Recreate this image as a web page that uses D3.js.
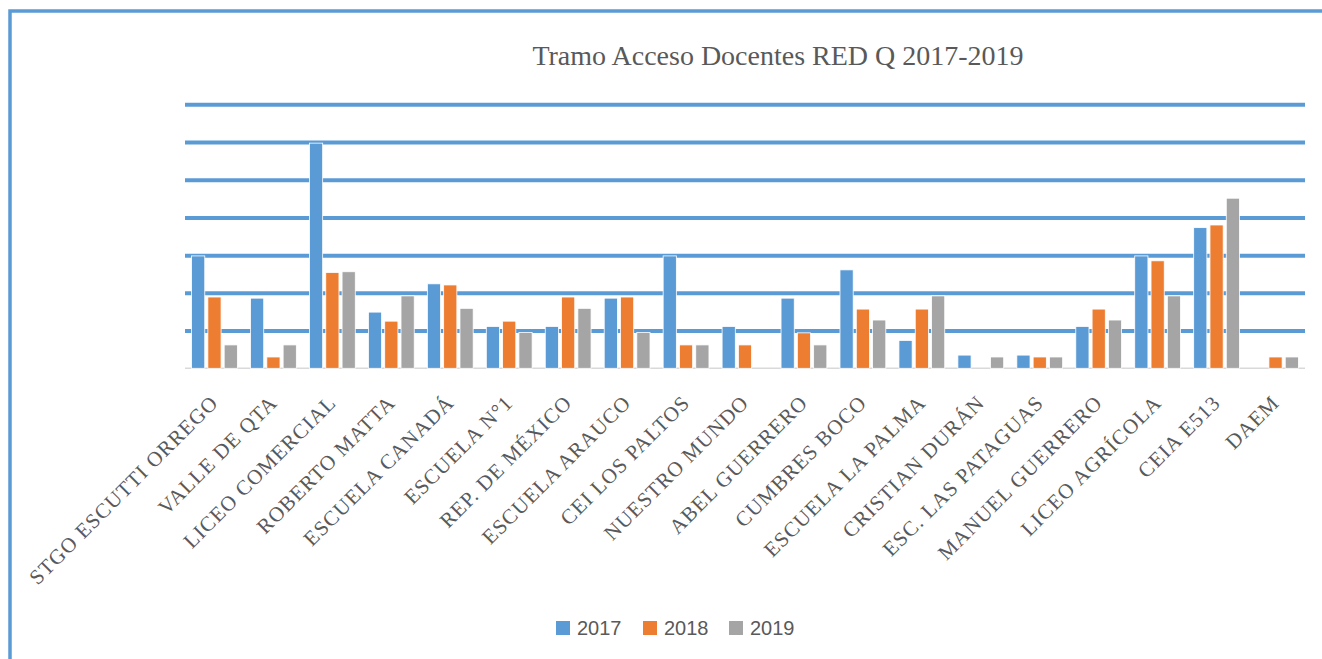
<!DOCTYPE html>
<html>
<head>
<meta charset="utf-8">
<script src="https://cdn.jsdelivr.net/npm/d3@7"></script>
<style>
  body { margin: 0; background: #fff; }
</style>
</head>
<body>
<svg id="chart"></svg>
<script>
// schools on the x axis
var schools = ["STGO ESCUTTI ORREGO", "VALLE DE QTA", "LICEO COMERCIAL", "ROBERTO MATTA",
    "ESCUELA CANADÁ", "ESCUELA N°1", "REP. DE MÉXICO", "ESCUELA ARAUCO", "CEI LOS PALTOS",
    "NUESTRO MUNDO", "ABEL GUERRERO", "CUMBRES BOCO", "ESCUELA LA PALMA", "CRISTIAN DURÁN",
    "ESC. LAS PATAGUAS", "MANUEL GUERRERO", "LICEO AGRÍCOLA", "CEIA E513", "DAEM"];

var years = ["2017", "2018", "2019"];

// bar heights (one unit = one gridline step)
var v2017 = [2.98, 1.86, 5.97, 1.49, 2.24, 1.11, 1.11, 1.86, 2.98, 1.11, 1.86, 2.61, 0.74, 0.35, 0.35, 1.11, 2.98, 3.73, 0];
var v2018 = [1.89, 0.30, 2.54, 1.25, 2.21, 1.25, 1.89, 1.89, 0.62, 0.62, 0.94, 1.57, 1.57, 0, 0.30, 1.57, 2.85, 3.80, 0.30];
var v2019 = [0.62, 0.62, 2.56, 1.92, 1.59, 0.95, 1.59, 0.95, 0.62, 0, 0.62, 1.28, 1.92, 0.30, 0.30, 1.28, 1.92, 4.51, 0.30];

var yTicks = [1, 2, 3, 4, 5, 6, 7];

var colors = {"2017": "#5B9BD5", "2018": "#ED7D31", "2019": "#A5A5A5"};

var size = { width: 1322, height: 659, left: 185, right: 1305, top: 104.3, bottom: 368.3 };

var svg = d3.select("#chart")
    .attr("width", size.width)
    .attr("height", size.height);

// frame round the chart area
svg.append("rect")
    .attr("x", 10)
    .attr("y", 11)
    .attr("width", 1400)
    .attr("height", 700)
    .attr("fill", "none")
    .attr("stroke", "#5B9BD5")
    .attr("stroke-width", 3.5);

var x0 = d3.scaleBand()
    .domain(schools)
    .range([size.left, size.right]);

var x1 = d3.scaleBand()
    .domain(years)
    .range([-26, 26])
    .padding(0.19);

var y = d3.scaleLinear()
    .domain([0, 7])
    .range([size.bottom, size.top]);

// gridlines
var grid = svg.append("g")
    .attr("transform", "translate(" + size.left + ",0)")
    .call(d3.axisLeft(y).tickValues(yTicks).tickSize(-(size.right - size.left)).tickFormat(""));
grid.select(".domain").remove();
grid.selectAll(".tick line")
    .attr("stroke", "#5B9BD5")
    .attr("stroke-width", 4);

// baseline
svg.append("line")
    .attr("x1", size.left)
    .attr("x2", size.right)
    .attr("y1", y(0))
    .attr("y2", y(0))
    .attr("stroke", "#D9D9D9")
    .attr("stroke-width", 1.5);

var rows = schools.map(function(s, i) {
    return { school: s, values: { "2017": v2017[i], "2018": v2018[i], "2019": v2019[i] } };
});

var groups = svg.selectAll(".group")
    .data(rows)
    .enter()
    .append("g")
    .attr("class", "group")
    .attr("transform", function(d) { return "translate(" + (x0(d.school) + x0.bandwidth() / 2) + ",0)"; });

groups.selectAll("rect")
    .data(function(d) { return years.map(function(yr) { return { year: yr, value: d.values[yr] }; }); })
    .enter()
    .filter(function(d) { return d.value > 0; })
    .append("rect")
    .attr("x", function(d) { return x1(d.year); })
    .attr("width", x1.bandwidth())
    .attr("y", function(d) { return y(d.value); })
    .attr("height", function(d) { return y(0) - y(d.value); })
    .attr("fill", function(d) { return colors[d.year]; })
    .attr("stroke", "#fff")
    .attr("stroke-width", 0.8);

// category labels, rotated
svg.append("g")
    .selectAll("text")
    .data(schools)
    .enter()
    .append("text")
    .attr("transform", function(d) {
        return "translate(" + (x0(d) + x0.bandwidth() / 2 + 5) + ",404) rotate(-45)";
    })
    .attr("text-anchor", "end")
    .style("font-family", "'Liberation Serif', serif")
    .style("font-size", "21px")
    .style("letter-spacing", "1px")
    .style("fill", "#595959")
    .text(function(d) { return d; });

// title
svg.append("text")
    .attr("x", 778)
    .attr("y", 65)
    .attr("text-anchor", "middle")
    .style("font-family", "'Liberation Serif', serif")
    .style("font-size", "28px")
    .style("fill", "#595959")
    .text("Tramo Acceso Docentes RED Q 2017-2019");

// legend
var legendX = [556, 643, 729];
var legend = svg.append("g")
    .selectAll("g")
    .data(years)
    .enter()
    .append("g")
    .attr("transform", function(d, i) { return "translate(" + legendX[i] + ",621)"; });

legend.append("rect")
    .attr("width", 14)
    .attr("height", 14)
    .attr("fill", function(d) { return colors[d]; });

legend.append("text")
    .attr("x", 21)
    .attr("y", 14)
    .style("font-family", "'Liberation Sans', sans-serif")
    .style("font-size", "20px")
    .style("fill", "#595959")
    .text(function(d) { return d; });
</script>
</body>
</html>
